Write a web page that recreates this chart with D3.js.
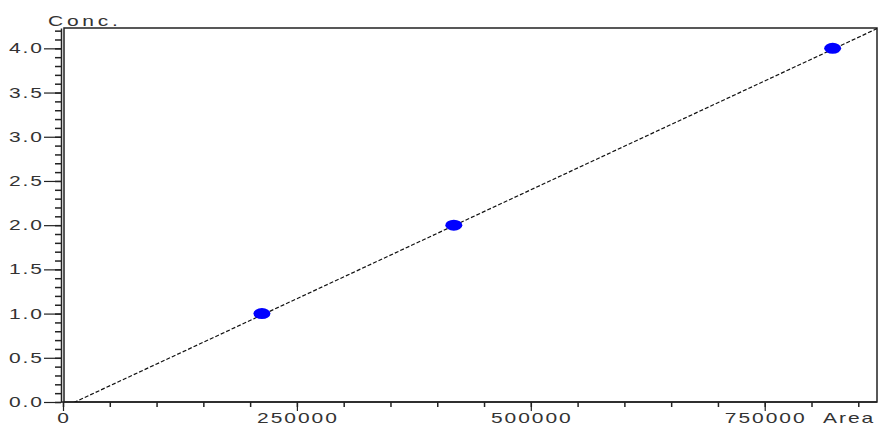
<!DOCTYPE html>
<html>
<head>
<meta charset="utf-8">
<script src="https://cdn.jsdelivr.net/npm/d3@7"></script>
<style>
  body { margin: 0; background: #fff; }
  text { font-family: "Liberation Sans", Arial, sans-serif; font-size: 14px; fill: #333; letter-spacing: 1.3px; }
</style>
</head>
<body>
<div id="chart"></div>
<script>
// calibration points
var areas = [212600, 417700, 822600];
var concs = [1.0, 2.0, 4.0];

// fitted line: conc = slope * area + intercept
var fitSlope = 4.926e-6;
var fitIntercept = -0.063;

// tick values
var xMajorTicks = [0, 250000, 500000, 750000];
var yMajorTicks = [0, 0.5, 1.0, 1.5, 2.0, 2.5, 3.0, 3.5, 4.0];
var xMinorTicks = d3.range(0, 850001, 50000);
var yMinorTicks = d3.range(0, 43).map(function(i) { return i / 10; });

var svgWidth = 881;
var svgHeight = 428;
var stretch = 1.5; // labels in the original look horizontally stretched

var svg = d3.select("#chart")
  .append("svg")
  .attr("width", svgWidth)
  .attr("height", svgHeight);

var xScale = d3.scaleLinear().domain([0, 870000]).range([63, 877]);
var yScale = d3.scaleLinear().domain([0, 4.23]).range([402, 28]);

// plot frame
svg.append("rect")
  .attr("x", 64).attr("y", 28)
  .attr("width", 877 - 64).attr("height", 402 - 28)
  .attr("fill", "none").attr("stroke", "#222").attr("stroke-width", 1.5);

svg.append("clipPath").attr("id", "plotClip")
  .append("rect")
  .attr("x", 64).attr("y", 28)
  .attr("width", 877 - 64).attr("height", 402 - 28);

// y axis
var yAxisX = 61;
svg.append("g")
  .attr("transform", "translate(" + yAxisX + ",0)")
  .call(d3.axisLeft(yScale).tickValues(yMinorTicks).tickSize(6).tickSizeOuter(0).tickFormat(""))
  .call(function(g) { g.selectAll("path,line").attr("stroke", "#222").attr("stroke-width", 1.5); });

svg.append("g")
  .attr("transform", "translate(" + yAxisX + ",0)")
  .call(d3.axisLeft(yScale).tickValues(yMajorTicks).tickSize(17).tickSizeOuter(0).tickFormat(""))
  .call(function(g) {
    g.select(".domain").remove();
    g.selectAll("line").attr("stroke", "#222").attr("stroke-width", 1.2);
  });

svg.selectAll(".ylabel")
  .data(yMajorTicks)
  .enter()
  .append("text")
  .attr("class", "ylabel")
  .attr("text-anchor", "end")
  .attr("transform", function(d) { return "translate(44," + (yScale(d) + 5) + ") scale(" + stretch + ",1)"; })
  .text(function(d) { return d.toFixed(1); });

// x axis
svg.append("g")
  .attr("transform", "translate(0,402)")
  .call(d3.axisBottom(xScale).tickValues(xMinorTicks).tickSize(5).tickSizeOuter(0).tickFormat(""))
  .call(function(g) {
    g.select(".domain").attr("d", "M" + yAxisX + ",0H877");
    g.selectAll("path,line").attr("stroke", "#222").attr("stroke-width", 1.5);
  });

svg.append("g")
  .attr("transform", "translate(0,402)")
  .call(d3.axisBottom(xScale).tickValues(xMajorTicks).tickSize(9).tickSizeOuter(0).tickFormat(""))
  .call(function(g) {
    g.select(".domain").remove();
    g.selectAll("line").attr("stroke", "#222").attr("stroke-width", 1.2);
  });

svg.selectAll(".xlabel")
  .data(xMajorTicks)
  .enter()
  .append("text")
  .attr("class", "xlabel")
  .attr("text-anchor", "middle")
  .attr("transform", function(d) { return "translate(" + (xScale(d) + 1) + ",423) scale(" + stretch + ",1)"; })
  .text(function(d) { return d; });

// axis titles
svg.append("text")
  .attr("transform", "translate(48,26) scale(" + stretch + ",1)")
  .style("letter-spacing", "2.5px")
  .text("Conc.");

svg.append("text")
  .attr("transform", "translate(823,423) scale(" + stretch + ",1)")
  .text("Area");

// fitted line
var xDom = xScale.domain();
var lineData = xDom.map(function(a) { return { area: a, conc: fitSlope * a + fitIntercept }; });

svg.append("path")
  .datum(lineData)
  .attr("clip-path", "url(#plotClip)")
  .attr("fill", "none")
  .attr("stroke", "#111")
  .attr("stroke-width", 1.2)
  .attr("stroke-dasharray", "4,2")
  .attr("d", d3.line().x(function(d) { return xScale(d.area); }).y(function(d) { return yScale(d.conc); }));

// points
svg.selectAll(".pt")
  .data(areas)
  .enter()
  .append("ellipse")
  .attr("class", "pt")
  .attr("cx", function(d) { return xScale(d); })
  .attr("cy", function(d, i) { return yScale(concs[i]); })
  .attr("rx", 8.5)
  .attr("ry", 5.5)
  .attr("fill", "#0000ff");
</script>
</body>
</html>
